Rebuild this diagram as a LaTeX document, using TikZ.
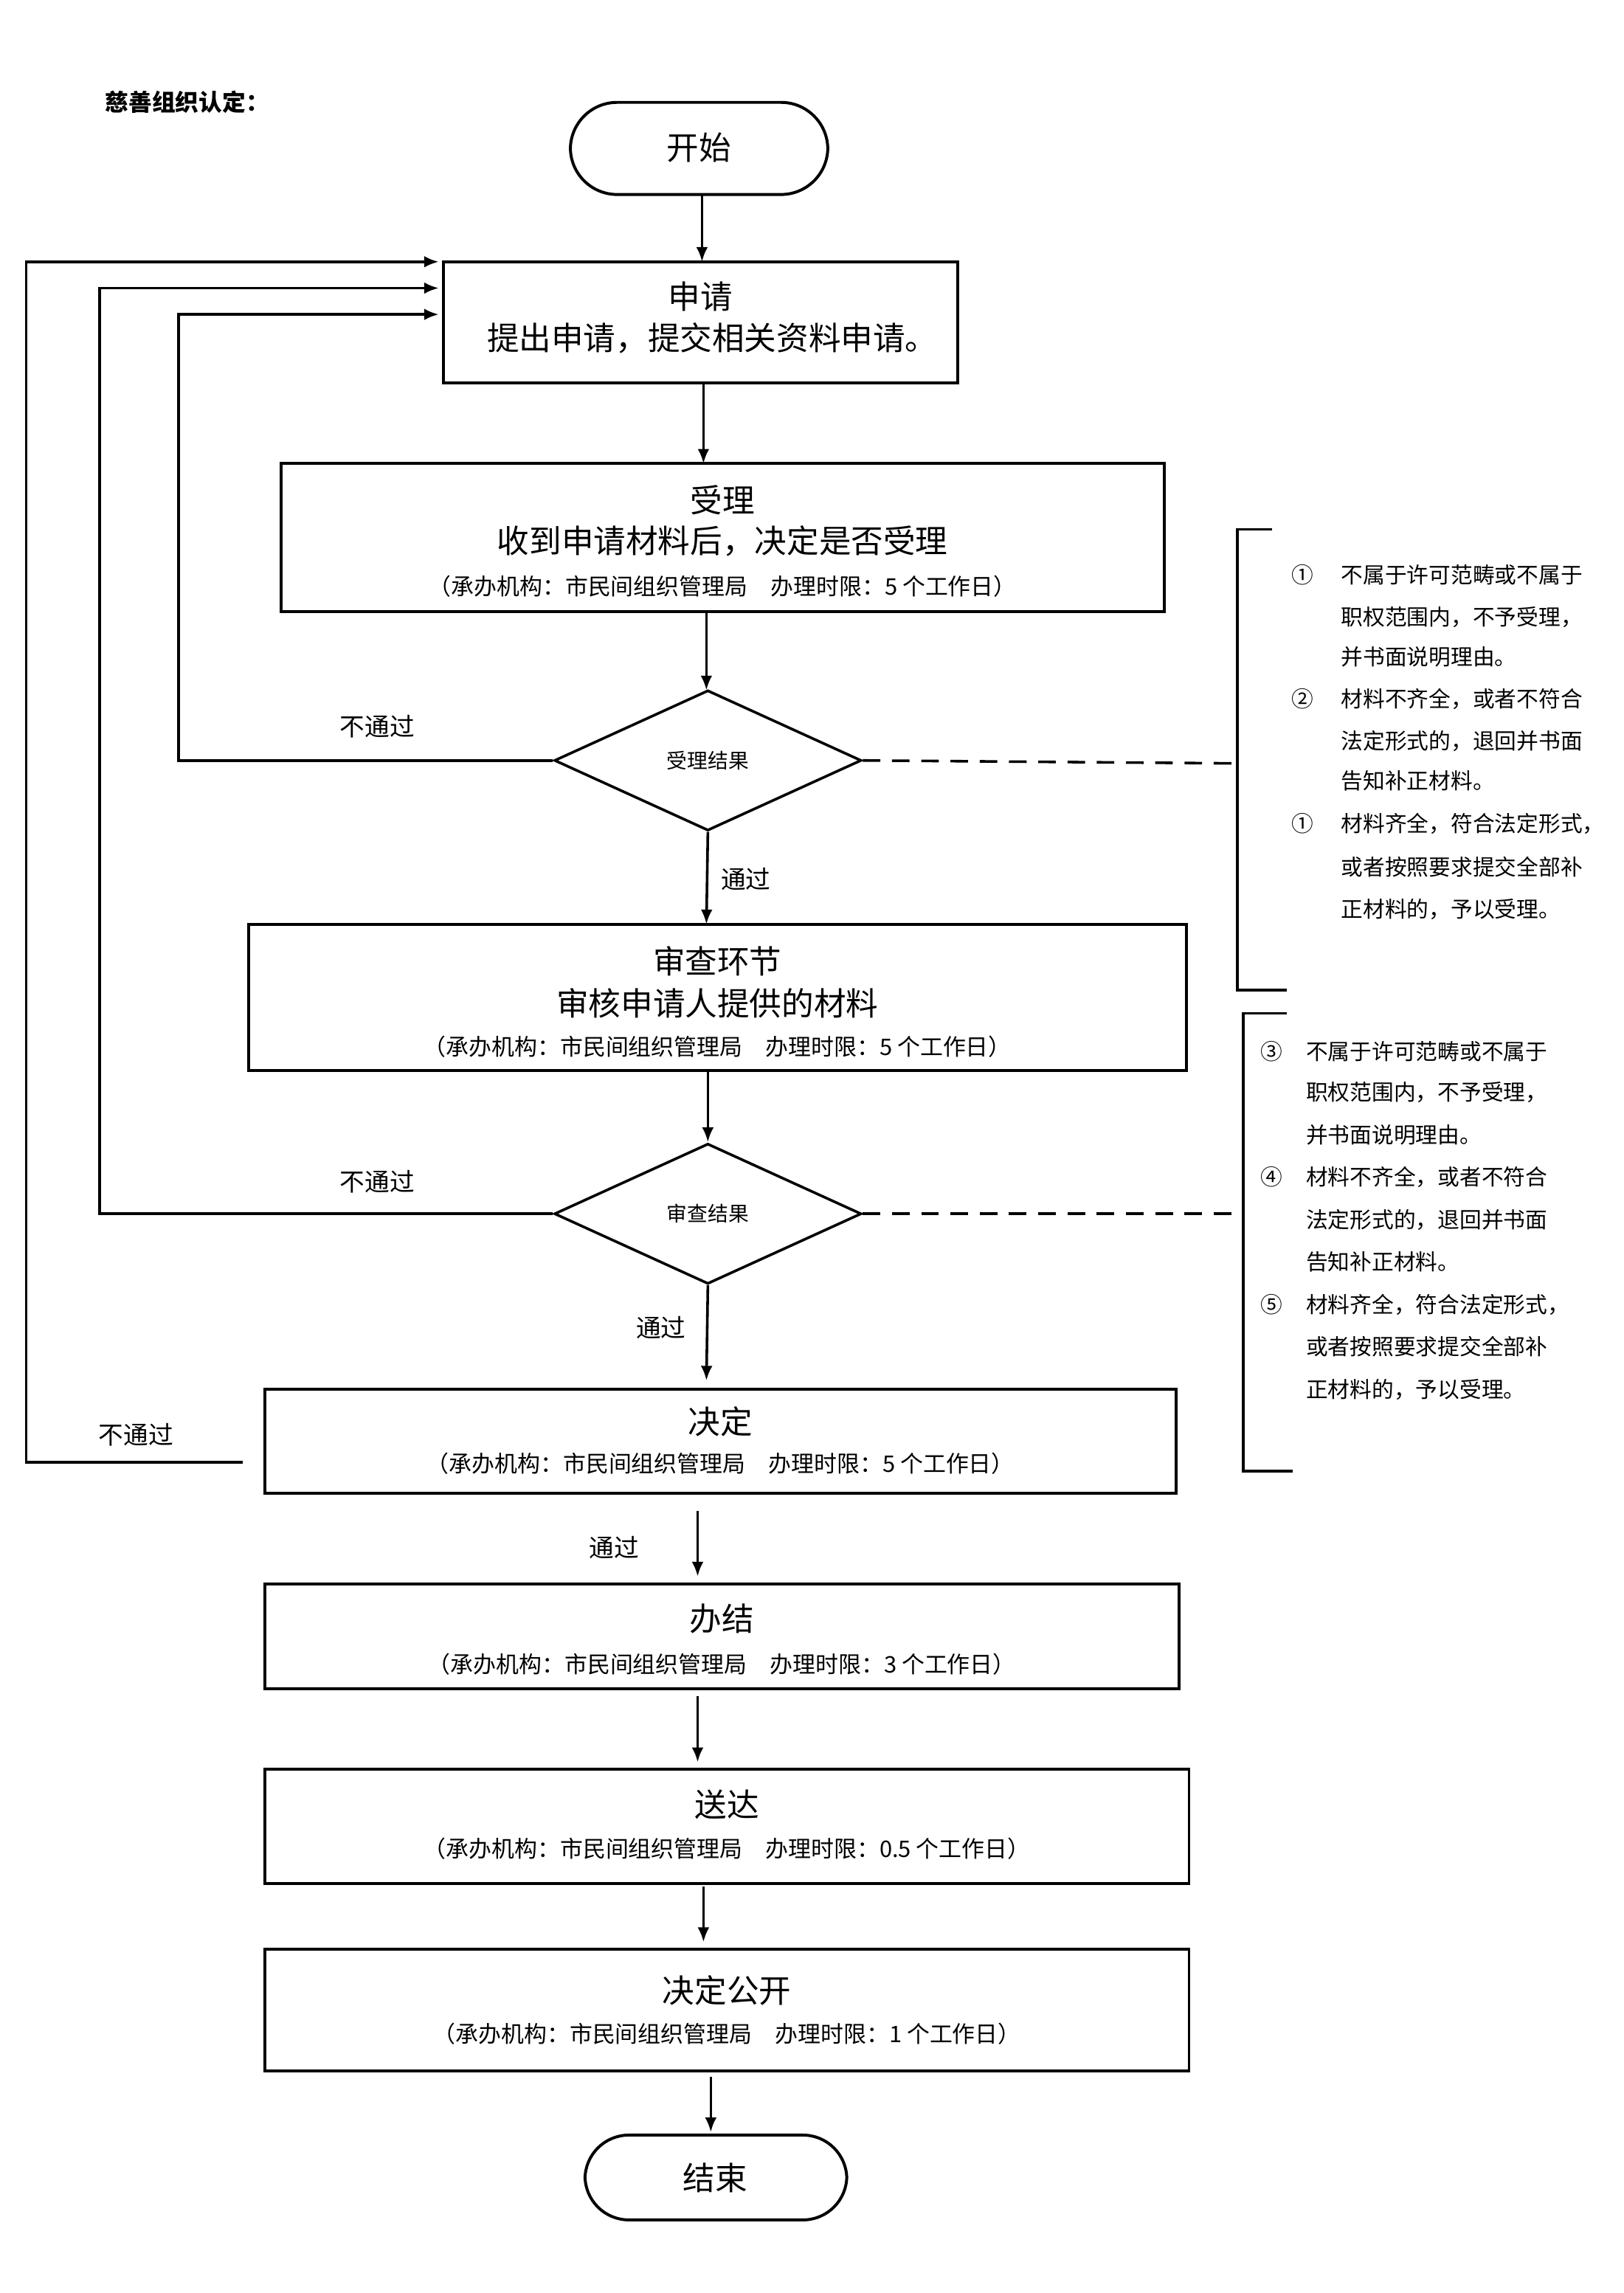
\documentclass[tikz,border=0pt]{standalone}
\usepackage{fontspec}
\setmainfont{Noto Sans CJK SC}
\usetikzlibrary{arrows.meta,shapes.geometric}
\begin{document}
\begin{tikzpicture}[x=0.5pt,y=-0.5pt,
 box/.style={draw,line width=1pt,inner sep=0pt},
 dia/.style={draw,line width=0.9pt,diamond,aspect=2.19,inner sep=0pt,minimum width=105pt,minimum height=48pt,font=\fontsize{7}{8}\selectfont},
 big/.style={font=\fontsize{11}{13}\selectfont},
 sml/.style={font=\fontsize{7.8}{9}\selectfont},
 lab/.style={font=\fontsize{8.5}{10}\selectfont},
 rt/.style={font=\fontsize{7.5}{9}\selectfont,anchor=west},
 arr/.style={line width=0.9pt,-{Latex[length=5pt,width=4pt]}},
 ln/.style={line width=0.9pt},
 dsh/.style={line width=0.9pt,dash pattern=on 6pt off 4pt}]
\useasboundingbox (0,0) rectangle (1110,1568);
\fill[white] (0,0) rectangle (1110,1568);
\node[font=\bfseries\fontsize{8}{10}\selectfont,anchor=west] (title) at (65,70) {慈善组织认定：};
\draw[box,rounded corners=16pt] (390,70) rectangle (566,133);
\node[big] (start) at (478,101) {开始};
\coordinate (startb) at (480,133);
\node[box,minimum width=176pt,minimum height=41.5pt] (sq) at (479,220.5) {};
\node[big] at (479,203) (sq1) {申请};
\node[big] at (487,231) (sq2) {提出申请，提交相关资料申请。};
\node[box,minimum width=302pt,minimum height=50.5pt] (sl) at (494,367.5) {};
\node[big] at (494,342) (sl1) {受理};
\node[big] at (494,370) (sl2) {收到申请材料后，决定是否受理};
\node[sml] at (494,401) (sl3) {（承办机构：市民间组织管理局\quad 办理时限：5 个工作日）};
\node[dia] (d1) at (484,520) {受理结果};
\node[box,minimum width=320.5pt,minimum height=50pt] (sc) at (490.5,682) {};
\node[big] at (490.5,657) (sc1) {审查环节};
\node[big] at (490.5,686) (sc2) {审核申请人提供的材料};
\node[sml] at (490.5,716) (sc3) {（承办机构：市民间组织管理局\quad 办理时限：5 个工作日）};
\node[dia] (d2) at (484,830) {审查结果};
\node[box,minimum width=311.5pt,minimum height=35.5pt] (jd) at (492.5,985.5) {};
\node[big] at (492.5,972) (jd1) {决定};
\node[sml] at (492.5,1001) (jd2) {（承办机构：市民间组织管理局\quad 办理时限：5 个工作日）};
\node[box,minimum width=312.5pt,minimum height=36pt] (bj) at (493.5,1119) {};
\node[big] at (493.5,1107) (bj1) {办结};
\node[sml] at (493.5,1138) (bj2) {（承办机构：市民间组织管理局\quad 办理时限：3 个工作日）};
\node[box,minimum width=316pt,minimum height=39pt] (sd) at (497,1249) {};
\node[big] at (497,1234) (sd1) {送达};
\node[sml] at (497,1264) (sd2) {（承办机构：市民间组织管理局\quad 办理时限：0.5 个工作日）};
\node[box,minimum width=316pt,minimum height=41.5pt] (gk) at (497,1374.5) {};
\node[big] at (497,1361) (gk1) {决定公开};
\node[sml] at (497,1391) (gk2) {（承办机构：市民间组织管理局\quad 办理时限：1 个工作日）};
\draw[box,rounded corners=15pt] (400,1460) rectangle (579,1518);
\node[big] (end) at (489,1489) {结束};
\draw[arr] (startb) -- (480,179);
\draw[arr] (481,262) -- (481,317);
\draw[arr] (483,418) -- (483,472);
\draw[arr] (d1.south) -- (483,632);
\node[lab] (l1) at (510,601) {通过};
\draw[arr] (484,732) -- (484,781);
\draw[arr] (d2.south) -- (483,944);
\node[lab] (l2) at (452,908) {通过};
\draw[arr] (477,1033) -- (477,1078);
\node[lab] (l3) at (420,1058) {通过};
\draw[arr] (477,1160) -- (477,1205);
\draw[arr] (481,1290) -- (481,1328);
\draw[arr] (486,1420) -- (486,1458);
\draw[arr] (d1.west) -- (122,520) -- (122,215) -- (300,215);
\node[lab] (n1) at (258,497) {不通过};
\draw[arr] (d2.west) -- (68,830) -- (68,197) -- (300,197);
\node[lab] (n2) at (258,808) {不通过};
\draw[arr] (166,1000) -- (18,1000) -- (18,179) -- (300,179);
\node[lab] (n3) at (93,981) {不通过};
\draw[dsh] (d1.east) -- (843,522);
\draw[ln] (870,362) -- (846,362) -- (846,677) -- (880,677);
\draw[dsh] (d2.east) -- (843,830);
\draw[ln] (880,693) -- (850,693) -- (850,1006) -- (884,1006);
\node[rt] (a1) at (876,393) {①};
\node[rt] (a1t) at (910,393) {不属于许可范畴或不属于};
\node[rt] (a2t) at (910,422) {职权范围内，不予受理，};
\node[rt] (a3t) at (910,449) {并书面说明理由。};
\node[rt] (b1) at (876,478) {②};
\node[rt] (b1t) at (910,478) {材料不齐全，或者不符合};
\node[rt] (b2t) at (910,507) {法定形式的，退回并书面};
\node[rt] (b3t) at (910,534) {告知补正材料。};
\node[rt] (c1) at (876,563) {①};
\node[rt] (c1t) at (910,563) {材料齐全，符合法定形式，};
\node[rt] (c2t) at (910,593) {或者按照要求提交全部补};
\node[rt] (c3t) at (910,622) {正材料的，予以受理。};
\node[rt] (e1) at (855,719) {③};
\node[rt] (e1t) at (886,719) {不属于许可范畴或不属于};
\node[rt] (e2t) at (886,747) {职权范围内，不予受理，};
\node[rt] (e3t) at (886,776) {并书面说明理由。};
\node[rt] (f1) at (855,805) {④};
\node[rt] (f1t) at (886,805) {材料不齐全，或者不符合};
\node[rt] (f2t) at (886,834) {法定形式的，退回并书面};
\node[rt] (f3t) at (886,863) {告知补正材料。};
\node[rt] (g1) at (855,892) {⑤};
\node[rt] (g1t) at (886,892) {材料齐全，符合法定形式，};
\node[rt] (g2t) at (886,921) {或者按照要求提交全部补};
\node[rt] (g3t) at (886,950) {正材料的，予以受理。};
\end{tikzpicture}
\end{document}
